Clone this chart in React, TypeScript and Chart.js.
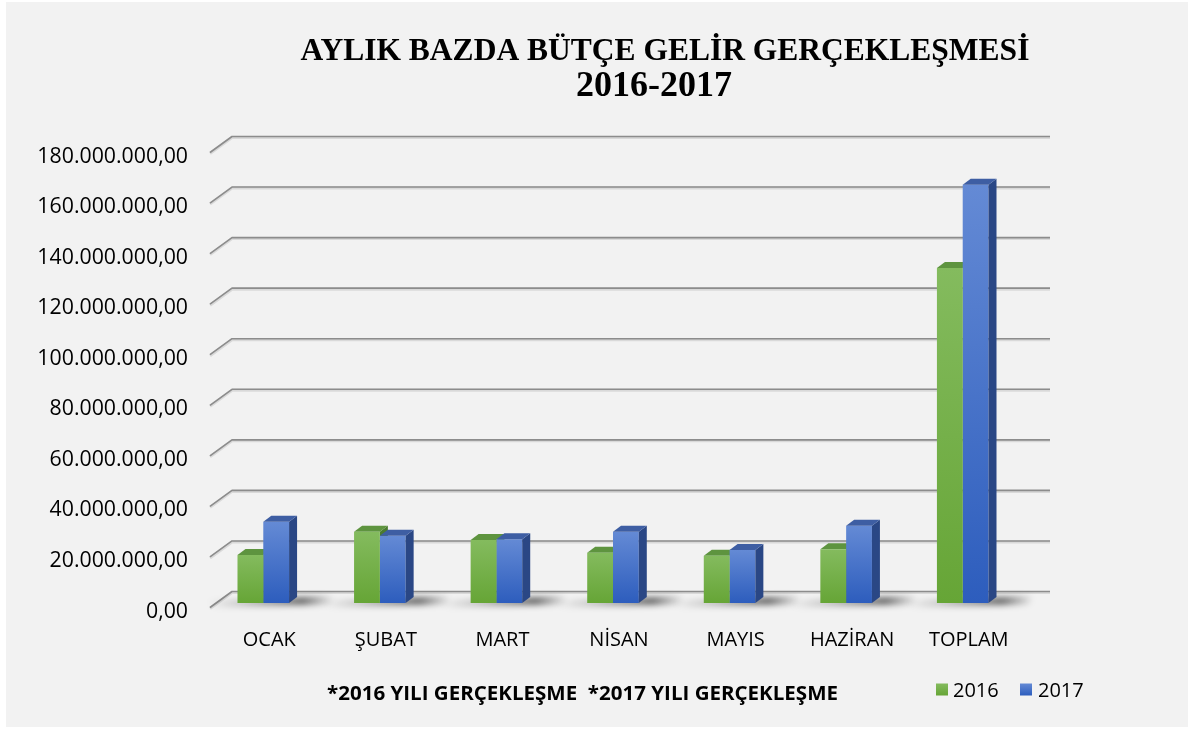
import React, { useEffect, useRef } from "react";
import { Chart, registerables } from "chart.js";

Chart.register(...registerables);

const categories = ["OCAK", "ŞUBAT", "MART", "NİSAN", "MAYIS", "HAZİRAN", "TOPLAM"];
const values2016 = [19000000, 28200000, 24900000, 19900000, 18700000, 21300000, 132500000];
const values2017 = [32100000, 26600000, 25200000, 28200000, 21000000, 30600000, 165500000];
const seriesLabels = ["2016", "2017"];
const yMin = 0;
const yMax = 180000000;
const yStep = 20000000;
const titleLines = ["AYLIK BAZDA BÜTÇE GELİR GERÇEKLEŞMESİ", "2016-2017"];
const footnote = "*2016 YILI GERÇEKLEŞME  *2017 YILI GERÇEKLEŞME";

const W = 1191;
const H = 729;
const DX = 8;
const DY = -6;

const palette = [
  { top: "#84bb5e", bottom: "#66a536", cap: "#5e943f", side: "#4b7b2f", legend: "#70ad47" },
  { top: "#648ad5", bottom: "#2d5dbd", cap: "#3e5ea3", side: "#2a4785", legend: "#4472c4" },
];

function fmt(v: number): string {
  const s = Math.round(v).toString().replace(/\B(?=(\d{3})+(?!\d))/g, ".");
  return s + ",00";
}

function drawBar3D(ctx: CanvasRenderingContext2D, el: any, pal: any) {
  const { x, y, base, width } = el.getProps(["x", "y", "base", "width"], true);
  const l = x - width / 2;
  const r = x + width / 2;
  ctx.fillStyle = pal.side;
  ctx.beginPath();
  ctx.moveTo(r, y);
  ctx.lineTo(r + DX, y + DY);
  ctx.lineTo(r + DX, base + DY);
  ctx.lineTo(r, base);
  ctx.closePath();
  ctx.fill();
  ctx.fillStyle = pal.cap;
  ctx.beginPath();
  ctx.moveTo(l, y);
  ctx.lineTo(r, y);
  ctx.lineTo(r + DX, y + DY);
  ctx.lineTo(l + DX, y + DY);
  ctx.closePath();
  ctx.fill();
}

const plugin3d = {
  id: "plugin3d",
  beforeDraw(chart: any) {
    const ctx = chart.ctx;
    ctx.save();
    ctx.fillStyle = "#ffffff";
    ctx.fillRect(0, 0, W, H);
    ctx.fillStyle = "#f2f2f2";
    ctx.fillRect(6, 2, 1182, 725);
    ctx.restore();
  },
  beforeDatasetsDraw(chart: any) {
    const ctx = chart.ctx;
    const a = chart.chartArea;
    const ys = chart.scales.y;
    ctx.save();
    ys.ticks.forEach((t: any) => {
      const yp = ys.getPixelForValue(t.value);
      const back = yp - 11.5;
      const front = yp + 4.5;
      ctx.lineJoin = "round";
      ctx.strokeStyle = "rgba(0,0,0,0.10)";
      ctx.lineWidth = 3;
      ctx.beginPath();
      ctx.moveTo(a.left + 5, front + 1);
      ctx.lineTo(a.left + 27, back + 1);
      ctx.lineTo(a.right + 29, back + 1);
      ctx.stroke();
      ctx.strokeStyle = "#8c8c8c";
      ctx.lineWidth = 1.6;
      ctx.beginPath();
      ctx.moveTo(a.left + 5, front);
      ctx.lineTo(a.left + 27, back);
      ctx.lineTo(a.right + 29, back);
      ctx.stroke();
    });
    const m0 = chart.getDatasetMeta(0);
    const m1 = chart.getDatasetMeta(1);
    const base = ys.getPixelForValue(0);
    m0.data.forEach((g: any, i: number) => {
      const b = m1.data[i];
      const gl = g.x - g.width / 2;
      const br = b.x + b.width / 2;
      ctx.save();
      ctx.filter = "blur(3px)";
      const grad = ctx.createLinearGradient(gl - 30, 0, br + 45, 0);
      grad.addColorStop(0, "rgba(0,0,0,0)");
      grad.addColorStop(0.25, "rgba(0,0,0,0.18)");
      grad.addColorStop(0.75, "rgba(0,0,0,0.6)");
      grad.addColorStop(1, "rgba(0,0,0,0)");
      ctx.fillStyle = grad;
      ctx.beginPath();
      ctx.moveTo(gl - 30, base - 2);
      ctx.lineTo(br + 45, base - 7);
      ctx.lineTo(br + 40, base + 1);
      ctx.lineTo(gl - 25, base + 4);
      ctx.closePath();
      ctx.fill();
      ctx.restore();
    });
    m0.data.forEach((el: any) => drawBar3D(ctx, el, palette[0]));
    ctx.restore();
  },
  afterDatasetsDraw(chart: any) {
    const ctx = chart.ctx;
    ctx.save();
    const m1 = chart.getDatasetMeta(1);
    m1.data.forEach((el: any) => drawBar3D(ctx, el, palette[1]));
    ctx.restore();
  },
  afterDraw(chart: any) {
    const ctx = chart.ctx;
    ctx.save();
    ctx.fillStyle = "#000";
    ctx.textAlign = "center";
    ctx.textBaseline = "alphabetic";
    ctx.font = 'bold 31.5px "Liberation Serif"';
    ctx.fillText(titleLines[0], 665, 59.5);
    ctx.font = 'bold 36px "Liberation Serif"';
    ctx.fillText(titleLines[1], 654, 95.5);

    ctx.font = 'bold 20px "Open Sans"';
    ctx.textAlign = "left";
    const w = ctx.measureText(footnote).width;
    const target = 511;
    ctx.save();
    ctx.translate(327, 700);
    ctx.scale(target / w, 1);
    ctx.fillText(footnote, 0, 0);
    ctx.restore();

    const sq = [936, 1020];
    const tx = [953, 1038];
    ctx.font = '20px "Open Sans"';
    chart.data.datasets.forEach((ds: any, i: number) => {
      const g = ctx.createLinearGradient(0, 683.5, 0, 695.5);
      g.addColorStop(0, palette[i].top);
      g.addColorStop(1, palette[i].bottom);
      ctx.fillStyle = g;
      ctx.fillRect(sq[i], 683.5, 12, 12);
      ctx.fillStyle = "#000";
      ctx.fillText(ds.label, tx[i], 697);
    });
    ctx.restore();
  },
};

function frontColor(i: number) {
  return (c: any) => {
    const ch = c.chart;
    const ys = ch.scales && ch.scales.y;
    if (!ch.chartArea || !ys || c.type !== "data") return palette[i].legend;
    const top = ys.getPixelForValue(c.raw);
    const base = ys.getPixelForValue(0);
    if (!isFinite(top) || !isFinite(base) || top === base) return palette[i].legend;
    const g = ch.ctx.createLinearGradient(0, top, 0, base);
    g.addColorStop(0, palette[i].top);
    g.addColorStop(1, palette[i].bottom);
    return g;
  };
}

export default function App() {
  const ref = useRef<HTMLCanvasElement | null>(null);
  useEffect(() => {
    if (!ref.current) return;
    const chart = new Chart(ref.current, {
      type: "bar",
      data: {
        labels: categories,
        datasets: [
          { label: seriesLabels[0], data: values2016, backgroundColor: frontColor(0), borderWidth: 0 },
          { label: seriesLabels[1], data: values2017, backgroundColor: frontColor(1), borderWidth: 0 },
        ],
      },
      options: {
        responsive: false,
        animation: false,
        devicePixelRatio: 1,
        layout: { padding: { left: 0, right: 170, top: 148, bottom: 66 } },
        datasets: { bar: { categoryPercentage: 0.4425, barPercentage: 1 } },
        plugins: {
          legend: { display: false },
          title: { display: false },
          tooltip: { enabled: false },
        },
        scales: {
          x: {
            grid: { display: false, drawTicks: false },
            border: { display: false },
            ticks: {
              font: { family: "Open Sans", size: 20 },
              color: "#000",
              padding: 25,
              labelOffset: 6,
              maxRotation: 0,
              autoSkip: false,
            },
            afterFit: (s: any) => {
              s.height = 60;
            },
          },
          y: {
            min: yMin,
            max: yMax,
            grid: { display: false, drawTicks: false },
            border: { display: false },
            ticks: {
              stepSize: yStep,
              callback: (v: any) => fmt(Number(v)),
              font: { family: "Open Sans", size: 21.3 },
              color: "#000",
              padding: 17,
              labelOffset: 8.5,
            },
            afterFit: (s: any) => {
              s.width = 205;
            },
          },
        },
      },
      plugins: [plugin3d],
    } as any);
    return () => chart.destroy();
  }, []);
  return (
    <div style={{ position: "absolute", left: 0, top: 0, width: W, height: H }}>
      <canvas ref={ref} width={W} height={H} style={{ display: "block", width: W, height: H }} />
    </div>
  );
}
